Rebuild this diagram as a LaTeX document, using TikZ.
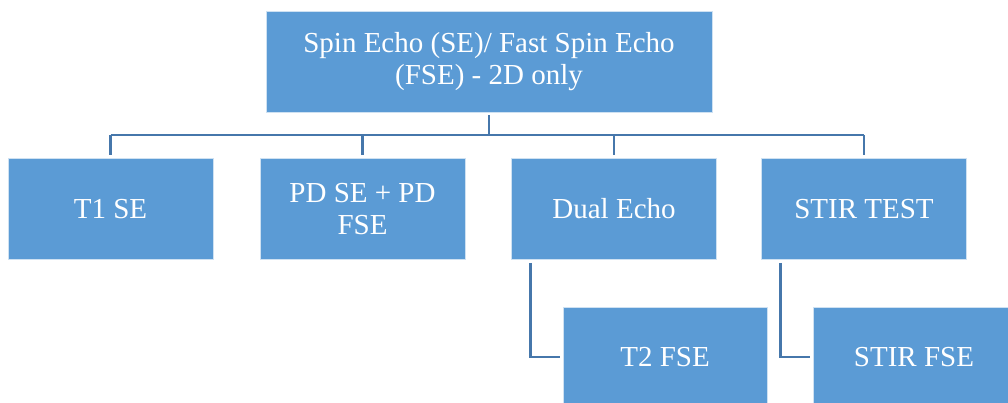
\documentclass[tikz,border=0pt]{standalone}
\usepackage{fontspec}
\setmainfont{Liberation Serif}
\definecolor{boxfill}{HTML}{5B9BD5}
\definecolor{linec}{HTML}{4677AB}
\begin{document}
\begin{tikzpicture}[x=1pt,y=-1pt,
  box/.style={draw=white!70!boxfill,line width=0.6pt,fill=boxfill,text=white,align=center,
    font=\fontsize{29}{32}\selectfont,inner sep=0pt},
  conn/.style={draw=linec,line width=2.6pt,shorten <=3pt,shorten >=3pt}]
\useasboundingbox (0,0) rectangle (1008,402);
\clip (0,0) rectangle (1008,402);
\node[box,minimum width=446pt,minimum height=101pt] (top) at (489,61.5)
  {Spin Echo (SE)/ Fast Spin Echo\\(FSE) - 2D only};
\node[box,minimum width=205pt,minimum height=101pt] (c1) at (110.5,209) {T1 SE};
\node[box,minimum width=205pt,minimum height=101pt] (c2) at (362.5,209) {PD SE + PD\\FSE};
\node[box,minimum width=205pt,minimum height=101pt] (c3) at (614,209) {Dual Echo};
\node[box,minimum width=205pt,minimum height=101pt] (c4) at (864,209) {STIR TEST};
\node[box,minimum width=204pt,minimum height=100pt] (t2) at (665,357) {T2 FSE};
\node[box,minimum width=202pt,minimum height=100pt] (s2) at (914,357) {STIR FSE};
\coordinate (bus) at (489,135);
\draw[conn,shorten >=0pt] (top.south) -- (bus);
\draw[draw=linec,line width=2.6pt] (c1.north |- bus) -- (c4.north |- bus);
\foreach \c in {c1,c2,c3,c4}
  \draw[conn,shorten <=0pt] (\c.north |- bus) -- (\c.north);
\draw[conn] ([xshift=19pt]c3.south west) |- (t2.west);
\draw[conn] ([xshift=19pt]c4.south west) |- (s2.west);
\end{tikzpicture}
\end{document}
